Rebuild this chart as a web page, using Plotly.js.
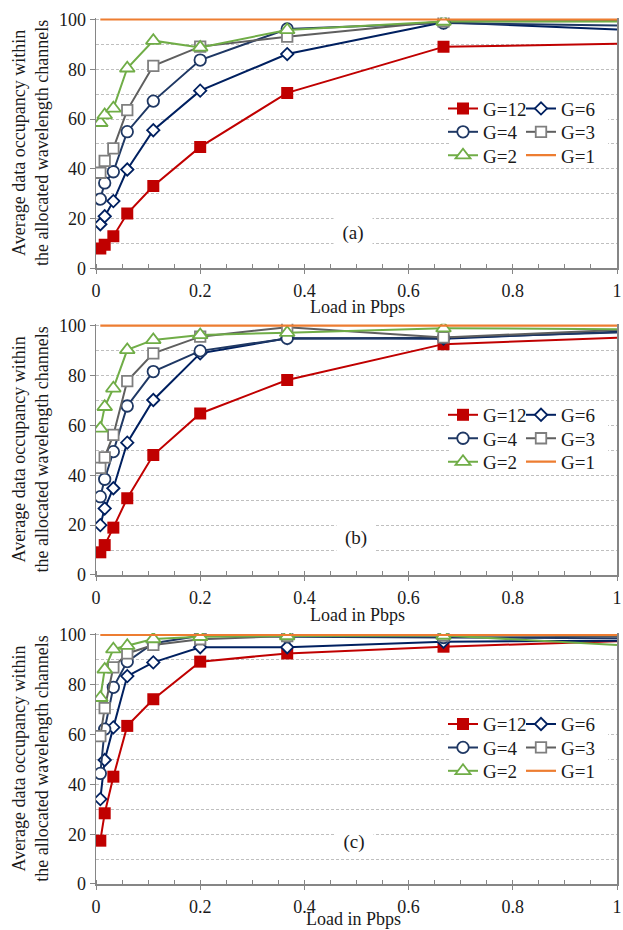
<!DOCTYPE html>
<html><head><meta charset="utf-8">
<script src="https://cdn.plot.ly/plotly-3.0.1.min.js"></script>
<style>html,body{margin:0;padding:0;background:#fff}</style>
</head><body><div id="chart" style="width:623px;height:930px"></div>
<script>
// ---------------- data ----------------
const loadPbps = [0.0083, 0.0167, 0.0333, 0.06, 0.11, 0.2, 0.367, 0.667, 1];
const groupNames = ['G=12', 'G=6', 'G=4', 'G=3', 'G=2', 'G=1'];
const panelLabels = ['(a)', '(b)', '(c)'];
const xTitle = 'Load in Pbps';
const yTitle = 'Average data occupancy within<br>the allocated wavelength channels';
const xTickVals = [0, 0.2, 0.4, 0.6, 0.8, 1];
const yTickVals = [0, 20, 40, 60, 80, 100];

// panel (a)
const a_G12 = [8.0, 9.5, 12.9, 22.0, 33.1, 48.8, 70.5, 89.0, 90.3];
const a_G6  = [17.7, 20.9, 27.0, 39.7, 55.5, 71.4, 86.1, 98.9, 96.0];
const a_G4  = [27.8, 34.3, 38.8, 54.9, 67.2, 83.7, 96.2, 98.6, 97.6];
const a_G3  = [38.4, 43.2, 48.2, 63.6, 81.4, 89.1, 93.1, 99.3, 99.4];
const a_G2  = [58.5, 61.6, 64.3, 80.4, 91.5, 88.8, 95.8, 99.2, 99.2];
const a_G1  = [100, 100, 100, 100, 100, 100, 100, 100, 100];
// panel (b)
const b_G12 = [9.1, 12.0, 19.0, 30.8, 48.1, 64.8, 78.2, 92.6, 95.2];
const b_G6  = [20.0, 26.7, 34.8, 53.1, 70.2, 88.9, 95.0, 94.8, 97.6];
const b_G4  = [31.4, 38.4, 49.5, 67.8, 81.6, 89.9, 94.9, 95.2, 97.3];
const b_G3  = [43.0, 47.2, 56.2, 77.8, 88.9, 95.6, 99.4, 95.3, 98.3];
const b_G2  = [58.8, 67.5, 74.9, 90.3, 94.3, 96.3, 97.2, 99.0, 98.6];
const b_G1  = [100, 100, 100, 100, 100, 100, 100, 100, 100];
// panel (c)
const c_G12 = [17.4, 28.4, 43.1, 63.5, 74.2, 89.3, 92.6, 95.3, 97.5];
const c_G6  = [34.1, 49.8, 62.9, 83.5, 89.0, 95.1, 95.1, 97.3, 97.7];
const c_G4  = [44.4, 62.2, 79.0, 89.3, 96.7, 99.7, 99.3, 99.0, 98.7];
const c_G3  = [59.4, 70.6, 87.0, 92.6, 96.0, 98.3, 99.6, 99.8, 99.5];
const c_G2  = [74.8, 86.2, 94.3, 95.7, 98.4, 99.3, 99.6, 99.8, 96.0];
const c_G1  = [100, 100, 100, 100, 100, 100, 100, 100, 100];

const panelSeries = [
  [a_G12, a_G6, a_G4, a_G3, a_G2, a_G1],
  [b_G12, b_G6, b_G4, b_G3, b_G2, b_G1],
  [c_G12, c_G6, c_G4, c_G3, c_G2, c_G1]
];

// ---------------- layout geometry ----------------
const W = 623, H = 930, ML = 96, MR = 6, MT = 15, MB = 46;
const panelPx = [{y0: 268.3, y100: 19.5}, {y0: 575, y100: 325.7}, {y0: 884, y100: 635}];
const xTitlePx = [{x: 357, y: 307}, {x: 357, y: 615}, {x: 353, y: 918.5}];
const YTOP = 100.8;
const FONT = '"Liberation Serif", "Times New Roman", serif';
const TXT = '#1a1a1a';
const AXC = '#868686';
function py2paper(py) { return (H - MB - py) / (H - MT - MB); }
function px2paper(px) { return (px - ML) / (W - ML - MR); }

const styles = [
  {line: {color: '#C00000', width: 2}, marker: {symbol: 'square', size: 12, color: '#C00000', line: {width: 0}}},
  {line: {color: '#002060', width: 2}, marker: {symbol: 'diamond', size: 9.5, color: '#ffffff', line: {color: '#002060', width: 1.8}}},
  {line: {color: '#1F3864', width: 2}, marker: {symbol: 'circle', size: 11.5, color: '#ffffff', line: {color: '#1F3864', width: 1.8}}},
  {line: {color: '#5f5f5f', width: 2}, marker: {symbol: 'square', size: 10.5, color: '#ffffff', line: {color: '#7F7F7F', width: 1.8}}},
  {line: {color: '#70AD47', width: 2}, marker: {symbol: 'triangle-up', size: 13, color: '#ffffff', line: {color: '#70AD47', width: 1.8}}},
  {line: {color: '#ED7D31', width: 2.2}}
];

const tails = [], mains = [], layout = {
  width: W, height: H, margin: {l: ML, r: MR, t: MT, b: MB},
  paper_bgcolor: '#fff', plot_bgcolor: '#fff', showlegend: true,
  font: {family: FONT, size: 18, color: TXT},
  annotations: [], shapes: []
};
const legendRowVals = [64.2, 54.8, 45.4];
const legendColPx = [443, 521];
const nLast = loadPbps.length - 1;

panelSeries.forEach((series, p) => {
  const sfx = p === 0 ? '' : String(p + 1);
  const xa = 'x' + sfx, ya = 'y' + sfx;
  const pp = panelPx[p];
  const scale = (pp.y0 - pp.y100) / 100;
  const dom = [py2paper(pp.y0), py2paper(pp.y100 - (YTOP - 100) * scale)];
  layout['xaxis' + sfx] = {
    anchor: ya, domain: [0, 1], range: [0, 1], tickvals: xTickVals, ticktext: xTickVals.map(String),
    showline: true, linecolor: AXC, linewidth: 1.5, ticks: 'outside', ticklen: 4, tickcolor: AXC, tickwidth: 1,
    ticklabelstandoff: 2,
    minor: {dtick: 0.05, tick0: 0, ticks: 'inside', ticklen: 4, tickcolor: AXC, showgrid: false},
    showgrid: false, zeroline: false, tickfont: {family: FONT, size: 18, color: TXT}
  };
  layout['yaxis' + sfx] = {
    anchor: xa, domain: dom, range: [0, YTOP], tickvals: yTickVals,
    showline: true, mirror: true, linecolor: AXC, linewidth: 1.5, ticks: 'outside', ticklen: 5, tickcolor: AXC,
    showgrid: true, gridcolor: '#BFBFBF', griddash: '3px,2px', gridwidth: 1,
    minor: {dtick: 10, tick0: 0, showgrid: true, gridcolor: '#BFBFBF', griddash: '3px,2px', gridwidth: 1},
    zeroline: false, tickfont: {family: FONT, size: 18, color: TXT},
    title: {text: yTitle, font: {family: FONT, size: 18, color: TXT}, standoff: 5}
  };
  // white box behind legend
  layout.shapes.push({type: 'rect', xref: xa, yref: ya, x0: 0.68, x1: 0.983, y0: 41.5, y1: 68.5,
    fillcolor: '#fff', line: {width: 0}, layer: 'above'});
  layout.annotations.push({text: panelLabels[p], xref: xa, yref: ya, x: [0.493, 0.499, 0.496][p], y: [14, 14.7, 16.7][p],
    showarrow: false, bgcolor: '#fff', width: 30, borderpad: 4, font: {family: FONT, size: 19, color: TXT}});
  // x-axis title
  layout.annotations.push({text: xTitle, xref: 'paper', yref: 'paper',
    x: px2paper(xTitlePx[p].x), y: py2paper(xTitlePx[p].y),
    xanchor: 'center', yanchor: 'middle', showarrow: false, font: {family: FONT, size: 18, color: TXT}});

  series.forEach((vals, g) => {
    const st = styles[g];
    const idx = p * 6 + g;
    const lid = idx === 0 ? 'legend' : 'legend' + (idx + 1);
    const col = g % 2, row = Math.floor(g / 2);
    layout[lid] = {
      x: px2paper(legendColPx[col]), xanchor: 'left',
      y: py2paper(pp.y0 - legendRowVals[row] * scale), yanchor: 'middle',
      bgcolor: 'rgba(0,0,0,0)', borderwidth: 0,
      font: {family: FONT, size: 19, color: TXT}
    };
    if (g === 5) {
      mains.push({type: 'scatter', mode: 'lines', x: loadPbps, y: vals, xaxis: xa, yaxis: ya,
        name: groupNames[g], legend: lid, line: st.line, hoverinfo: 'skip'});
    } else {
      tails.push({type: 'scatter', mode: 'lines', x: loadPbps.slice(nLast - 1), y: vals.slice(nLast - 1),
        xaxis: xa, yaxis: ya, showlegend: false, line: st.line, hoverinfo: 'skip'});
      mains.push({type: 'scatter', mode: 'lines+markers', x: loadPbps.slice(0, nLast), y: vals.slice(0, nLast),
        xaxis: xa, yaxis: ya, name: groupNames[g], legend: lid, line: st.line, marker: st.marker, hoverinfo: 'skip'});
    }
  });
});

// G=1 (orange) drawn last so it stays on top
const g1 = mains.filter(t => t.name === 'G=1');
const others = mains.filter(t => t.name !== 'G=1');
Plotly.newPlot('chart', tails.concat(others, g1), layout, {staticPlot: true, displayModeBar: false});
</script>
</body></html>
